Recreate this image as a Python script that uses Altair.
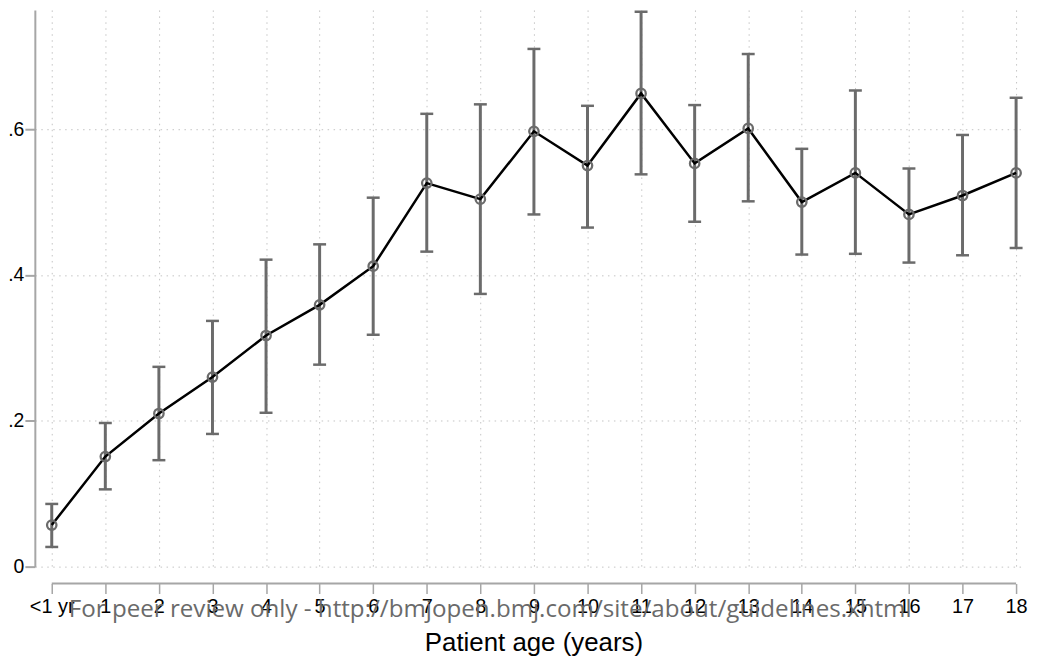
import altair as alt
import pandas as pd

ages = list(range(0, 19))
tick_labels = ["<1 yr"] + [str(a) for a in range(1, 19)]
means = [0.057, 0.151, 0.210, 0.260, 0.317, 0.359, 0.412, 0.526, 0.504, 0.597,
         0.550, 0.649, 0.553, 0.601, 0.500, 0.540, 0.483, 0.509, 0.540]
lower = [0.027, 0.106, 0.146, 0.182, 0.211, 0.277, 0.318, 0.432, 0.374, 0.483,
         0.465, 0.538, 0.473, 0.501, 0.428, 0.429, 0.417, 0.427, 0.437]
upper = [0.086, 0.197, 0.274, 0.337, 0.421, 0.442, 0.506, 0.621, 0.634, 0.710,
         0.632, 0.761, 0.633, 0.703, 0.573, 0.653, 0.546, 0.592, 0.643]
y_ticks = [0, 0.2, 0.4, 0.6]
x_title = "Patient age (years)"
watermark = "For peer review only - http://bmjopen.bmj.com/site/about/guidelines.xhtml"

df = pd.DataFrame({"age": ages, "mean": means, "lo": lower, "hi": upper})

W, H = 995, 560
AX = "#a6a6a6"
GRAY = "#6b6b6b"
FONT = "Liberation Sans"

xscale = alt.Scale(domain=[-0.3155, 18.148], nice=False, zero=False)
yscale = alt.Scale(domain=[0, 0.7635], nice=False, zero=False)

label_expr = "datum.value == 0 ? '<1 yr' : format(datum.value, 'd')"

xax = alt.Axis(values=ages, labelExpr=label_expr, title=x_title, domain=False,
               grid=True, gridColor="#c4c4c4", gridDash=[1.5, 4.5], gridWidth=1,
               tickColor=AX, tickWidth=1.5, tickSize=10, offset=17,
               labelFont=FONT, labelFontSize=20, labelColor="black", labelPadding=3,
               titleFont=FONT, titleFontSize=26, titleFontWeight="normal",
               titleColor="black", titlePadding=13, titleX=501.5, titleAlign="center")
yax = alt.Axis(values=y_ticks, labelExpr="datum.value == 0 ? '0' : '.' + round(datum.value * 10)",
               title=None, domain=True, domainColor=AX, domainWidth=2,
               grid=True, gridColor="#c4c4c4", gridDash=[1.5, 4.5], gridWidth=1,
               tickColor=AX, tickWidth=2, tickSize=10,
               labelFont=FONT, labelFontSize=19.5, labelColor="black", labelPadding=1)

base = alt.Chart(df)

bars = base.mark_rule(color=GRAY, strokeWidth=3).encode(
    x=alt.X("age:Q", scale=xscale, axis=xax),
    y=alt.Y("lo:Q", scale=yscale, axis=yax),
    y2="hi:Q",
)
caps_hi = base.mark_tick(orient="horizontal", color=GRAY, size=13, thickness=2.5, opacity=1).encode(
    x=alt.X("age:Q", scale=xscale), y=alt.Y("hi:Q", scale=yscale))
caps_lo = base.mark_tick(orient="horizontal", color=GRAY, size=13, thickness=2.5, opacity=1).encode(
    x=alt.X("age:Q", scale=xscale), y=alt.Y("lo:Q", scale=yscale))
line = base.mark_line(color="black", strokeWidth=2.5).encode(
    x=alt.X("age:Q", scale=xscale), y=alt.Y("mean:Q", scale=yscale))
pts = base.mark_point(shape="circle", filled=False, color=GRAY, strokeWidth=2.3, size=90, opacity=1).encode(
    x=alt.X("age:Q", scale=xscale), y=alt.Y("mean:Q", scale=yscale))

xline = alt.Chart(pd.DataFrame({"a": [ages[0]], "b": [ages[-1]]})).mark_rule(
    color=AX, strokeWidth=2).encode(
    x=alt.X("a:Q", scale=xscale), x2="b:Q", y=alt.value(H + 17))

wm = alt.Chart(pd.DataFrame({"t": [watermark]})).mark_text(
    font="Open Sans", fontSize=24.3, color="#6a6a6a", baseline="alphabetic", align="center").encode(
    text="t:N", x=alt.value(458), y=alt.value(610.3))

chart = alt.layer(bars, caps_hi, caps_lo, line, pts, xline, wm).properties(
    width=W, height=H,
    autosize=alt.AutoSizeParams(type="none"),
    padding={"left": 27, "top": 0, "right": 5, "bottom": 95},
).configure_view(stroke=None)

chart.save("out.html", embed_options={"renderer": "svg", "actions": False})
